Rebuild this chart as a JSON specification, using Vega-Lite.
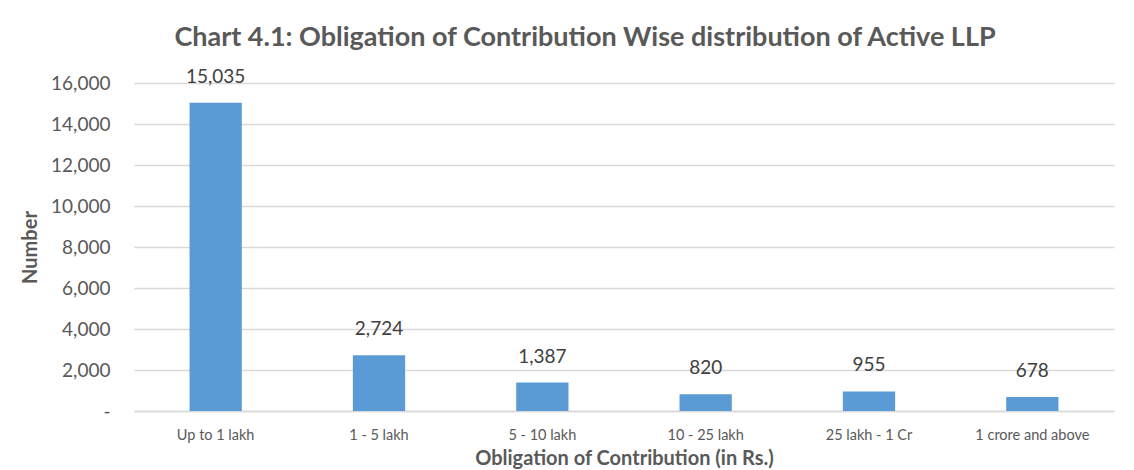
{
  "$schema": "https://vega.github.io/schema/vega-lite/v6.json",
  "width": 980,
  "height": 328,
  "autosize": {"type": "none"},
  "padding": {"left": 134, "top": 83, "right": 20, "bottom": 59},
  "background": "white",
  "title": {
    "text": "Chart 4.1:  Obligation of Contribution Wise distribution of Active LLP",
    "font": "Lato",
    "fontSize": 27,
    "fontWeight": "bold",
    "color": "#595959",
    "anchor": "middle",
    "dx": -39,
    "offset": 16
  },
  "config": {
    "view": {"stroke": null},
    "font": "Lato"
  },
  "data": {
    "values": [
      {"category": "Up to 1 lakh", "number": 15035},
      {"category": "1 - 5 lakh", "number": 2724},
      {"category": "5 - 10 lakh", "number": 1387},
      {"category": "10 - 25 lakh", "number": 820},
      {"category": "25 lakh - 1 Cr", "number": 955},
      {"category": "1 crore and above", "number": 678}
    ]
  },
  "encoding": {
    "x": {
      "field": "category",
      "type": "nominal",
      "sort": null,
      "scale": {"paddingInner": 0.68, "paddingOuter": 0.34},
      "axis": {
        "title": "Obligation of Contribution  (in Rs.)",
        "titleFont": "Lato",
        "titleFontSize": 20,
        "titleFontWeight": "bold",
        "titleColor": "#595959",
        "titlePadding": 7,
        "labelAngle": 0,
        "labelFont": "Lato",
        "labelFontSize": 14.5,
        "labelColor": "#595959",
        "labelPadding": 17,
        "ticks": false,
        "domainColor": "#d9d9d9",
        "domainWidth": 1.5
      }
    },
    "y": {
      "field": "number",
      "type": "quantitative",
      "scale": {"domain": [0, 16000], "nice": false},
      "axis": {
        "title": "Number",
        "titleFont": "Lato",
        "titleFontSize": 20,
        "titleFontWeight": "bold",
        "titleColor": "#595959",
        "titlePadding": 10,
        "values": [0, 2000, 4000, 6000, 8000, 10000, 12000, 14000, 16000],
        "labelExpr": "datum.value == 0 ? '-' : format(datum.value, ',')",
        "labelFont": "Lato",
        "labelFontSize": 19,
        "labelColor": "#595959",
        "labelPadding": 24,
        "ticks": false,
        "domain": false,
        "grid": true,
        "gridColor": "#d9d9d9",
        "gridWidth": 1.5
      }
    }
  },
  "layer": [
    {"mark": {"type": "bar", "color": "#5B9BD5"}},
    {
      "mark": {"type": "text", "dy": -16, "baseline": "bottom", "font": "Lato", "fontSize": 19, "color": "#404040"},
      "encoding": {"text": {"field": "number", "type": "quantitative", "format": ","}}
    }
  ]
}
